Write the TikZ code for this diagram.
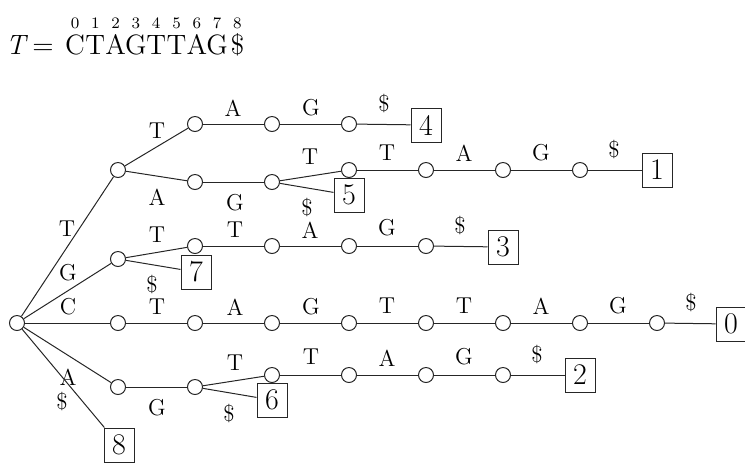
\documentclass[tikz,border=0pt]{standalone}
\usepackage{fontspec}
\begin{document}
\begin{tikzpicture}[x=0.5pt,y=-0.5pt,
  v/.style={circle,draw=black!85,fill=white,minimum size=7.5pt,inner sep=0pt,line width=0.5pt},
  leaf/.style={draw=black!85,fill=white,minimum width=15pt,minimum height=17pt,inner sep=0pt,font=\fontsize{15}{17}\selectfont,line width=0.5pt},
  lab/.style={font=\fontsize{11.5}{13}\selectfont,inner sep=0pt},
  e/.style={line width=0.5pt,draw=black!85},
  big/.style={font=\fontsize{14}{16}\selectfont,inner sep=0pt,anchor=base},
  idx/.style={font=\fontsize{8}{9}\selectfont,inner sep=0pt}]
\useasboundingbox (0,0) rectangle (745,463);
% header
\node[big] (hdrT) at (17,54) {\textit{T}};
\node[big] (hdrEq) at (43,54) {=};
\foreach \ch [count=\k from 0] in {C,T,A,G,T,T,A,G,\$} {
  \node[big] (s\k) at (75+20.3*\k,54) {\ch};
  \node[idx] (i\k) at (75+20.3*\k,23) {\k};
}
% vertices
\node[v] (r) at (17,323) {};
\node[v] (t) at (118,170) {};
\node[v] (tt) at (195,124) {};
\node[v] (tta) at (272,124) {};
\node[v] (ttag) at (349,124) {};
\node[leaf] (L4) at (426,125) {4};
\node[v] (ta) at (195,182) {};
\node[v] (tag) at (272,182) {};
\node[v] (tagt) at (349,170) {};
\node[v] (tagtt) at (426,170) {};
\node[v] (tagtta) at (503,170) {};
\node[v] (tagttag) at (580,170) {};
\node[leaf] (L1) at (657,170) {1};
\node[leaf] (L5) at (349,195) {5};
\node[v] (g) at (118,259) {};
\node[v] (gt) at (195,246) {};
\node[v] (gtt) at (272,246) {};
\node[v] (gtta) at (349,246) {};
\node[v] (gttag) at (426,246) {};
\node[leaf] (L3) at (503,247) {3};
\node[leaf] (L7) at (196,272) {7};
\node[v] (c) at (118,323) {};
\node[v] (ct) at (195,323) {};
\node[v] (cta) at (272,323) {};
\node[v] (ctag) at (349,323) {};
\node[v] (ctagt) at (426,323) {};
\node[v] (ctagtt) at (503,323) {};
\node[v] (ctagtta) at (580,323) {};
\node[v] (ctagttag) at (657,323) {};
\node[leaf] (L0) at (731,324) {0};
\node[v] (a) at (118,387) {};
\node[v] (ag) at (195,387) {};
\node[v] (agt) at (272,375) {};
\node[v] (agtt) at (349,375) {};
\node[v] (agtta) at (426,375) {};
\node[v] (agttag) at (503,375) {};
\node[leaf] (L2) at (580,375) {2};
\node[leaf] (L6) at (272,400) {6};
\node[leaf] (L8) at (119,445) {8};
% edges from root
\draw[e] (r) -- (t) node[lab] at (67,229) {T};
\draw[e] (r) -- (g) node[lab] at (68,273) {G};
\draw[e] (r) -- (c) node[lab] at (68,307) {C};
\draw[e] (r) -- (a) node[lab] at (68,377) {A};
\draw[e] (r) -- (L8) node[lab] at (62,402) {\$};
% T branch
\draw[e] (t) -- (tt) node[lab] at (157,131) {T};
\draw[e] (tt) -- (tta) node[lab] at (233,108) {A};
\draw[e] (tta) -- (ttag) node[lab] at (311,108) {G};
\draw[e] (ttag) -- (L4) node[lab] at (384,104) {\$};
\draw[e] (t) -- (ta) node[lab] at (157,197) {A};
\draw[e] (ta) -- (tag) node[lab] at (235,203) {G};
\draw[e] (tag) -- (tagt) node[lab] at (310,157) {T};
\draw[e] (tag) -- (L5) node[lab] at (307,208) {\$};
\draw[e] (tagt) -- (tagtt) node[lab] at (387,153) {T};
\draw[e] (tagtt) -- (tagtta) node[lab] at (464,153) {A};
\draw[e] (tagtta) -- (tagttag) node[lab] at (541,153) {G};
\draw[e] (tagttag) -- (L1) node[lab] at (614,150) {\$};
% G branch
\draw[e] (g) -- (gt) node[lab] at (157,235) {T};
\draw[e] (g) -- (L7) node[lab] at (152,285) {\$};
\draw[e] (gt) -- (gtt) node[lab] at (235,230) {T};
\draw[e] (gtt) -- (gtta) node[lab] at (310,230) {A};
\draw[e] (gtta) -- (gttag) node[lab] at (387,228) {G};
\draw[e] (gttag) -- (L3) node[lab] at (460,226) {\$};
% C branch
\draw[e] (c) -- (ct) node[lab] at (157,307) {T};
\draw[e] (ct) -- (cta) node[lab] at (235,307) {A};
\draw[e] (cta) -- (ctag) node[lab] at (311,307) {G};
\draw[e] (ctag) -- (ctagt) node[lab] at (387,306) {T};
\draw[e] (ctagt) -- (ctagtt) node[lab] at (464,306) {T};
\draw[e] (ctagtt) -- (ctagtta) node[lab] at (541,306) {A};
\draw[e] (ctagtta) -- (ctagttag) node[lab] at (618,306) {G};
\draw[e] (ctagttag) -- (L0) node[lab] at (691,303) {\$};
% A branch
\draw[e] (a) -- (ag) node[lab] at (157,408) {G};
\draw[e] (ag) -- (agt) node[lab] at (235,363) {T};
\draw[e] (ag) -- (L6) node[lab] at (229,414) {\$};
\draw[e] (agt) -- (agtt) node[lab] at (311,357) {T};
\draw[e] (agtt) -- (agtta) node[lab] at (387,358) {A};
\draw[e] (agtta) -- (agttag) node[lab] at (464,357) {G};
\draw[e] (agttag) -- (L2) node[lab] at (537,355) {\$};
\end{tikzpicture}
\end{document}
